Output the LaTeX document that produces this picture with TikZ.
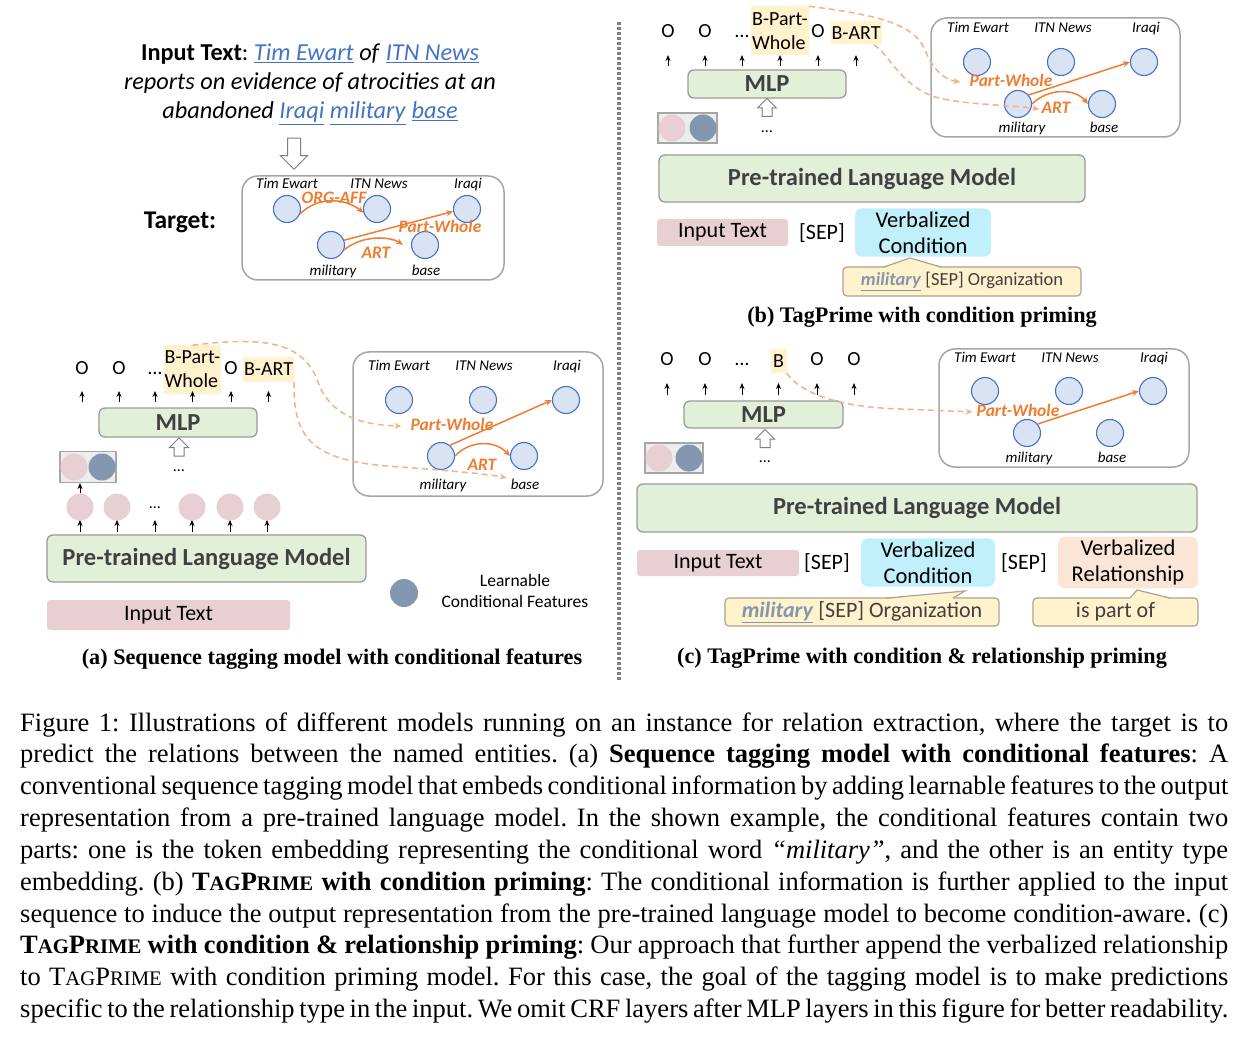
\documentclass[tikz,border=0pt]{standalone}
\usepackage{fontspec}
\setmainfont{Liberation Serif}
\newfontfamily\calfont{Carlito}
\usetikzlibrary{arrows.meta,shapes.arrows}

\definecolor{entfill}{HTML}{DAE3F3}
\definecolor{entline}{HTML}{4472C4}
\definecolor{relorange}{HTML}{ED7D31}
\definecolor{dashorange}{HTML}{F4B183}
\definecolor{boxgray}{HTML}{A6A6A6}
\definecolor{layergreen}{HTML}{E2F0D9}
\definecolor{layerline}{HTML}{9A9A9A}
\definecolor{textdark}{HTML}{404040}
\definecolor{pinkfill}{HTML}{E8CFD3}
\definecolor{darkblue}{HTML}{8497B0}
\definecolor{featfill}{HTML}{EDEDED}
\definecolor{featline}{HTML}{A6A6A6}
\definecolor{hlyellow}{HTML}{FFF2CC}
\definecolor{cyanfill}{HTML}{C1F0FC}
\definecolor{peachfill}{HTML}{FBE5D6}
\definecolor{callfill}{HTML}{FFF2CC}
\definecolor{callline}{HTML}{ABA58E}
\definecolor{linkblue}{HTML}{4472C4}
\definecolor{milblue}{HTML}{8497B0}
\definecolor{hollowline}{HTML}{7F7F7F}
\definecolor{sepgray}{HTML}{808080}

\newcommand\link[1]{\textcolor{linkblue}{\underline{\textit{#1}}}}
\newcommand\milword{\textcolor{milblue}{\underline{\textbf{\textit{military}}}}}
\newcommand\tagprime{T{\fontsize{20.7}{31.85}\selectfont AG}P{\fontsize{20.7}{31.85}\selectfont RIME}}
\frenchspacing

\begin{document}
\begin{tikzpicture}[x=1pt,y=-1pt,
  ent/.style={circle,draw=entline,fill=entfill,line width=1.1,minimum size=27,inner sep=0},
  elbl/.style={font=\calfont\itshape\fontsize{15}{17}\selectfont,inner sep=0,text height=10.5,text depth=3},
  rel/.style={font=\calfont\bfseries\itshape\fontsize{17.5}{19}\selectfont,text=relorange,inner sep=0,text height=12,text depth=3},
  tag/.style={font=\calfont\fontsize{20}{24}\selectfont,inner sep=0,text height=13,text depth=4},
  hltag/.style={font=\calfont\fontsize{20}{24}\selectfont,fill=hlyellow,inner sep=1,align=left},
  layer/.style={draw=layerline,fill=layergreen,rounded corners=6,line width=1.3,text=textdark,
    font=\calfont\bfseries\fontsize{24.5}{28}\selectfont},
  inbox/.style={fill=pinkfill,rounded corners=3,font=\calfont\fontsize{22}{24}\selectfont},
  verb/.style={rounded corners=7,align=center,font=\calfont\fontsize{22.5}{26}\selectfont},
  septxt/.style={font=\calfont\fontsize{22}{24}\selectfont,inner sep=0},
  call/.style={draw=callline,fill=callfill,rounded corners=4,line width=1.2,text=textdark,
    font=\calfont\fontsize{22}{24}\selectfont},
  tokc/.style={circle,fill=pinkfill,minimum size=27,inner sep=0},
  typec/.style={circle,fill=darkblue,minimum size=27,inner sep=0},
  featbox/.style={draw=featline,fill=featfill,line width=1.2},
  hollowup/.style={single arrow,shape border rotate=90,draw=hollowline,fill=white,line width=1,
    minimum height=18,minimum width=18,inner sep=4.5,single arrow head extend=4.5},
  dots/.style={font=\calfont\fontsize{16}{18}\selectfont,inner sep=0},
  graphbox/.style={draw=boxgray,rounded corners=16,line width=1.5},
  tick/.style={-{Stealth[length=6,width=5]},line width=1},
  relarrow/.style={draw=relorange,line width=1.5,-{Stealth[length=7,width=6]}},
  dasharrow/.style={draw=dashorange,line width=1.5,dash pattern=on 6 off 4,-{Stealth[length=7,width=6]}},
  subcap/.style={font=\bfseries\fontsize{22.2}{26}\selectfont,inner sep=0,anchor=base},
  capline/.style={font=\fontsize{26.5}{31.85}\selectfont,inner sep=0,anchor=base west},
  head/.style={font=\calfont\fontsize{24.3}{29}\selectfont,align=center,inner sep=0}]
\useasboundingbox (0,0) rectangle (1250,1040);

% ---------- (a) input text and target
\node[head] (intext) at (310,84) {\textbf{Input Text}: \link{Tim Ewart} \textit{of} \link{ITN News}\\
  \textit{reports on evidence of atrocities at an}\\
  \textit{abandoned} \link{Iraqi} \link{military} \link{base}};
\node[single arrow,shape border rotate=270,draw=hollowline,fill=white,line width=1,
  minimum height=31,minimum width=26,inner sep=6,single arrow head extend=7] (down) at (294,150.5) {};
\node[font=\calfont\bfseries\fontsize{25.5}{28}\selectfont] (target) at (180,222) {Target:};

\draw[graphbox] (242,176) rectangle (504,280);
\node[elbl] (tLTim) at (287,185) {Tim Ewart};
\node[elbl] (tLITN) at (379,185) {ITN News};
\node[elbl] (tLIraqi) at (468,185) {Iraqi};
\node[elbl] (tLMil) at (333,272) {military};
\node[elbl] (tLBase) at (426,272) {base};
\node[ent] (tTim) at (287,209) {};
\node[ent] (tITN) at (377,209) {};
\node[ent] (tIraqi) at (467,209) {};
\node[ent] (tMil) at (331,245) {};
\node[ent] (tBase) at (425,245) {};
\draw[relarrow] (tTim.-20) .. controls (318,196) and (345,198) .. (tITN.195);
\draw[relarrow] (tMil.20) -- (tIraqi.190);
\draw[relarrow] (tMil.-20) .. controls (362,235) and (390,236) .. ([xshift=-8]tBase.west);
\node[rel] (tOrg) at (334,199) {ORG-AFF};
\node[rel] (tPW) at (440,228) {Part-Whole};
\node[rel] (tART) at (376,254) {ART};

% ---------- (a) sequence tagging model
\node[tag] (aO1) at (82,370) {O};
\node[tag] (aO2) at (119,370) {O};
\node[tag] (aDots) at (155,370) {\ldots};
\node[hltag,minimum width=57,minimum height=48] (aBPW) at (192.5,369.5) {B-Part-\\Whole};
\node[tag] (aO3) at (231,370) {O};
\node[hltag,minimum width=51,minimum height=25] (aBART) at (268.5,369.5) {B-ART};
\node[layer,minimum width=158,minimum height=29] (aMLP) at (178,422.5) {MLP};
\coordinate (aTip) at (0,391);
\foreach \n in {aO1,aO2,aDots,aBPW,aO3,aBART}
  \draw[tick] ([yshift=5]aMLP.north -| \n) -- (aTip -| \n);
\node[hollowup] (aUp) at (179,449.5) {};
\node[dots] (aDots2) at (179,471) {\ldots};
\node[featbox,minimum width=56,minimum height=31] (aFeat) at (88,467) {};
\node[tokc] (aTok) at (74,467) {};
\node[typec] (aType) at (102,467) {};
\node[tokc] (aP1) at (80,507) {};
\node[tokc] (aP2) at (117,507) {};
\node[dots] (aPd) at (155,508) {\ldots};
\node[tokc] (aP3) at (192,507) {};
\node[tokc] (aP4) at (230,507) {};
\node[tokc] (aP5) at (267,507) {};
\draw[tick] (aP1.north) -- (aFeat.south -| aP1);
\node[layer,minimum width=319,minimum height=47] (aPLM) at (206.5,558.5) {Pre-trained Language Model};
\coordinate (aTip2) at (0,520);
\foreach \n in {aP1,aP2,aPd,aP3,aP4,aP5}
  \draw[tick] ([yshift=2]aPLM.north -| \n) -- (aTip2 -| \n);
\node[inbox,minimum width=243,minimum height=30] (aIn) at (168.5,615) {Input Text};
\node[typec,minimum size=28] (aLearn) at (404,593) {};
\node[font=\calfont\fontsize{17.5}{21}\selectfont,align=center] (aLearnTxt) at (515,591) {Learnable\\Conditional Features};

\draw[graphbox] (353,352) rectangle (603,496);
\node[elbl] (aLTim) at (399,367) {Tim Ewart};
\node[elbl] (aLITN) at (484,367) {ITN News};
\node[elbl] (aLIraqi) at (567,367) {Iraqi};
\node[elbl] (aLMil) at (443,486) {military};
\node[elbl] (aLBase) at (525,486) {base};
\node[ent] (aTim) at (399,400) {};
\node[ent] (aITN) at (483,400) {};
\node[ent] (aIraqi) at (566,400) {};
\node[ent] (aMil) at (441,456) {};
\node[ent] (aBase) at (524,456) {};
\draw[relarrow] (aMil.50) -- (aIraqi.west);
\draw[relarrow] (aMil.east) .. controls (470,440) and (495,440) .. (aBase.west);
\node[rel] (aPW) at (452,426) {Part-Whole};
\node[rel] (aART) at (482,466) {ART};
\draw[dasharrow] (aBPW.north) .. controls (270,335) and (305,345) .. (318,382)
  .. controls (330,415) and (360,425) .. ([xshift=-9]aPW.west);
\draw[dasharrow] (aBART.south east) .. controls (292,445) and (320,462) .. (400,467)
  .. controls (440,470) and (480,473) .. ([shift={(10,4)}]aART.south east);
\node[subcap] (capA) at (332,664) {(a) Sequence tagging model with conditional features};

% separator
\draw[sepgray,line width=3.5,dash pattern=on 3 off 2] (619,22) -- (619,680);

% ---------- (b) condition priming
\node[tag] (bO1) at (668,33) {O};
\node[tag] (bO2) at (705,33) {O};
\node[tag] (bDots) at (742,33) {\ldots};
\node[hltag,minimum width=56,minimum height=49] (bBPW) at (780,31) {B-Part-\\Whole};
\node[tag] (bO3) at (818,33) {O};
\node[hltag,minimum width=50,minimum height=23] (bBART) at (856,33) {B-ART};
\node[layer,minimum width=158,minimum height=28] (bMLP) at (767,84) {MLP};
\coordinate (bTip) at (0,55);
\foreach \n in {bO1,bO2,bDots,bBPW,bO3,bBART}
  \draw[tick] ([yshift=3]bMLP.north -| \n) -- (bTip -| \n);
\node[hollowup] (bUp) at (767,110) {};
\node[dots] (bDots2) at (767,132) {\ldots};
\node[featbox,minimum width=59,minimum height=30] (bFeat) at (687.5,128) {};
\node[tokc] (bTok) at (672,128) {};
\node[typec] (bType) at (703,128) {};
\node[layer,minimum width=426,minimum height=47] (bPLM) at (872,178.5) {Pre-trained Language Model};
\node[inbox,minimum width=131,minimum height=27] (bIn) at (722.5,232.5) {Input Text};
\node[septxt] (bSep) at (822,233) {[SEP]};
\node[verb,fill=cyanfill,minimum width=136,minimum height=45] (bVC) at (923,232.5) {Verbalized\\Condition};
\node[call,font=\calfont\fontsize{18.5}{22}\selectfont,minimum width=238,minimum height=29] (bCall) at (962,281.5)
  {\milword{} [SEP] Organization};
\fill[callfill] (884,268) -- (910,258) -- (941,268) -- cycle;
\draw[callline,line width=1.2] (884,267) -- (910,258) -- (941,267);

\draw[graphbox] (931,18) rectangle (1180,137);
\node[elbl] (bLTim) at (978,29) {Tim Ewart};
\node[elbl] (bLITN) at (1063,29) {ITN News};
\node[elbl] (bLIraqi) at (1146,29) {Iraqi};
\node[elbl] (bLMil) at (1022,129) {military};
\node[elbl] (bLBase) at (1104,129) {base};
\node[ent] (bTim) at (977,62) {};
\node[ent] (bITN) at (1061,62) {};
\node[ent] (bIraqi) at (1144,62) {};
\node[ent] (bMil) at (1018,104) {};
\node[ent] (bBase) at (1102,104) {};
\draw[relarrow] (bMil.40) -- (bIraqi.west);
\draw[relarrow] (bMil.east) .. controls (1048,88) and (1075,88) .. (bBase.west);
\node[rel] (bPW) at (1011,82) {Part-Whole};
\node[rel] (bART) at (1056,109) {ART};
\draw[dasharrow] (bBPW.north east) .. controls (880,15) and (915,25) .. (925,50)
  .. controls (933,70) and (945,80) .. ([xshift=-9]bPW.west);
\draw[dasharrow] ([xshift=-8]bBART.south east) .. controls (890,55) and (900,85) .. (935,97)
  .. controls (965,105) and (1000,104) .. ([xshift=-2]bART.west);
\node[subcap] (capB) at (922,323) {(b) TagPrime with condition priming};

% ---------- (c) condition & relationship priming
\node[tag] (cO1) at (667,361) {O};
\node[tag] (cO2) at (705,361) {O};
\node[tag] (cDots) at (742,361) {\ldots};
\node[hltag,minimum width=16,minimum height=24] (cB) at (778.5,361) {B};
\node[tag] (cO3) at (817,361) {O};
\node[tag] (cO4) at (854,361) {O};
\node[layer,minimum width=159,minimum height=27] (cMLP) at (763.5,414.5) {MLP};
\coordinate (cTip) at (0,383);
\foreach \n in {cO1,cO2,cDots,cB,cO3,cO4}
  \draw[tick] ([yshift=5]cMLP.north -| \n) -- (cTip -| \n);
\node[hollowup] (cUp) at (765,441) {};
\node[dots] (cDots2) at (765,462) {\ldots};
\node[featbox,minimum width=58,minimum height=30] (cFeat) at (674,458) {};
\node[tokc] (cTok) at (659,458) {};
\node[typec] (cType) at (689,458) {};
\node[layer,minimum width=560,minimum height=48] (cPLM) at (917,508) {Pre-trained Language Model};
\node[inbox,minimum width=162,minimum height=26] (cIn) at (718,563) {Input Text};
\node[septxt] (cSep1) at (827,563) {[SEP]};
\node[verb,fill=cyanfill,minimum width=134,minimum height=45] (cVC) at (928,562.5) {Verbalized\\Condition};
\node[septxt] (cSep2) at (1024,563) {[SEP]};
\node[verb,fill=peachfill,minimum width=140,minimum height=45] (cVR) at (1128,562.5) {Verbalized\\Relationship};
\node[call,minimum width=274,minimum height=28] (cCall1) at (862,612) {\milword{} [SEP] Organization};
\fill[callfill] (887,599) -- (965,591) -- (953,599) -- cycle;
\draw[callline,line width=1.2] (887,598) -- (965,591) -- (953,598);
\node[call,minimum width=165,minimum height=28] (cCall2) at (1115.5,612) {is part of};
\fill[callfill] (1130,599) -- (1137,590) -- (1170,599) -- cycle;
\draw[callline,line width=1.2] (1130,598) -- (1137,590) -- (1170,598);

\draw[graphbox] (939,349) rectangle (1189,467);
\node[elbl] (cLTim) at (985,359) {Tim Ewart};
\node[elbl] (cLITN) at (1070,359) {ITN News};
\node[elbl] (cLIraqi) at (1154,359) {Iraqi};
\node[elbl] (cLMil) at (1029,459) {military};
\node[elbl] (cLBase) at (1112,459) {base};
\node[ent] (cTim) at (985,391) {};
\node[ent] (cITN) at (1069,391) {};
\node[ent] (cIraqi) at (1153,391) {};
\node[ent] (cMil) at (1027,433) {};
\node[ent] (cBase) at (1110,433) {};
\draw[relarrow] (cMil.40) -- (cIraqi.west);
\node[rel] (cPW) at (1018,412) {Part-Whole};
\draw[dasharrow] (cB.south east) .. controls (800,392) and (835,407) .. (900,409)
  .. controls (930,410) and (950,411) .. ([xshift=-4]cPW.west);
\node[subcap] (capC) at (922,663) {(c) TagPrime with condition \& relationship priming};

% ---------- figure caption
\node[capline] (cap1) at (20,731) {\makebox[1208pt][s]{Figure 1: Illustrations of different models running on an instance for relation extraction, where the target is to}};
\node[capline] (cap2) at (20,762.85) {\makebox[1208pt][s]{predict the relations between the named entities. (a) \textbf{Sequence tagging model with conditional features}: A}};
\node[capline] (cap3) at (20,794.7) {\makebox[1208pt][s]{conventional sequence tagging model that embeds conditional information by adding learnable features to the output}};
\node[capline] (cap4) at (20,826.55) {\makebox[1208pt][s]{representation from a pre-trained language model. In the shown example, the conditional features contain two}};
\node[capline] (cap5) at (20,858.4) {\makebox[1208pt][s]{parts: one is the token embedding representing the conditional word \textit{``military''}, and the other is an entity type}};
\node[capline] (cap6) at (20,890.25) {\makebox[1208pt][s]{embedding. (b) \textbf{\tagprime{} with condition priming}: The conditional information is further applied to the input}};
\node[capline] (cap7) at (20,922.1) {\makebox[1208pt][s]{sequence to induce the output representation from the pre-trained language model to become condition-aware. (c)}};
\node[capline] (cap8) at (20,953.95) {\makebox[1208pt][s]{\textbf{\tagprime{} with condition \& relationship priming}: Our approach that further append the verbalized relationship}};
\node[capline] (cap9) at (20,985.8) {\makebox[1208pt][s]{to \tagprime{} with condition priming model. For this case, the goal of the tagging model is to make predictions}};
\node[capline] (cap10) at (20,1017.65) {\makebox[1208pt][s]{specific to the relationship type in the input. We omit CRF layers after MLP layers in this figure for better readability.}};
\end{tikzpicture}
\end{document}
